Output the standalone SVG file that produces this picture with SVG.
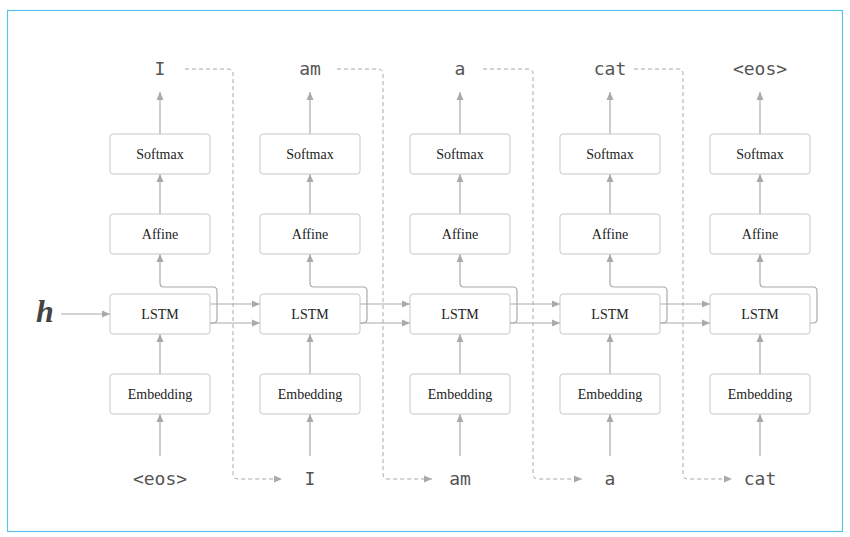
<svg xmlns="http://www.w3.org/2000/svg" width="850" height="537" viewBox="0 0 850 537">
<defs>
<marker id="ah" markerUnits="userSpaceOnUse" markerWidth="9" markerHeight="8" refX="8" refY="4" orient="auto">
<path d="M0,0.5 L8,4 L0,7.5 Z" fill="#aaaaaa"/>
</marker>
<style>
.box{fill:#fff;stroke:#c8c8c8;stroke-width:1}
.lbl{font-family:"Liberation Serif",serif;font-size:14px;fill:#222;text-anchor:middle}
.word{font-family:"DejaVu Sans Mono",monospace;font-size:18px;fill:#555;text-anchor:middle}
.ln{fill:none;stroke:#aaaaaa;stroke-width:1.2;marker-end:url(#ah)}
.ln2{fill:none;stroke:#aaaaaa;stroke-width:1.2}
.dash{fill:none;stroke:#aaaaaa;stroke-width:1;stroke-dasharray:4,3;marker-end:url(#ah)}
</style>
</defs>
<rect x="7.5" y="10.5" width="835" height="521" fill="#fff" stroke="#5bc2ee" stroke-width="1.2"/>
<text x="45" y="322" font-family="Liberation Serif,serif" font-size="32" font-weight="bold" font-style="italic" fill="#444" text-anchor="middle">h</text>
<g id="connectors">
<path class="ln" d="M61,314 H110"/>
<!-- column vertical arrows -->
<path class="ln" d="M160,456 V414"/><path class="ln" d="M160,374 V334"/><path class="ln" d="M160,214 V174"/><path class="ln" d="M160,134 V92"/>
<path class="ln" d="M310,456 V414"/><path class="ln" d="M310,374 V334"/><path class="ln" d="M310,214 V174"/><path class="ln" d="M310,134 V92"/>
<path class="ln" d="M460,456 V414"/><path class="ln" d="M460,374 V334"/><path class="ln" d="M460,214 V174"/><path class="ln" d="M460,134 V92"/>
<path class="ln" d="M610,456 V414"/><path class="ln" d="M610,374 V334"/><path class="ln" d="M610,214 V174"/><path class="ln" d="M610,134 V92"/>
<path class="ln" d="M760,456 V414"/><path class="ln" d="M760,374 V334"/><path class="ln" d="M760,214 V174"/><path class="ln" d="M760,134 V92"/>
<!-- LSTM to Affine branches -->
<path class="ln" d="M210,323 H213 Q217,323 217,319 V291 Q217,287 213,287 H164 Q160,287 160,283 V254"/>
<path class="ln" d="M360,323 H363 Q367,323 367,319 V291 Q367,287 363,287 H314 Q310,287 310,283 V254"/>
<path class="ln" d="M510,323 H513 Q517,323 517,319 V291 Q517,287 513,287 H464 Q460,287 460,283 V254"/>
<path class="ln" d="M660,323 H663 Q667,323 667,319 V291 Q667,287 663,287 H614 Q610,287 610,283 V254"/>
<path class="ln" d="M810,323 H813 Q817,323 817,319 V291 Q817,287 813,287 H764 Q760,287 760,283 V254"/>
<!-- LSTM to LSTM -->
<path class="ln" d="M210,304 H260"/><path class="ln" d="M210,323 H260"/>
<path class="ln" d="M360,304 H410"/><path class="ln" d="M360,323 H410"/>
<path class="ln" d="M510,304 H560"/><path class="ln" d="M510,323 H560"/>
<path class="ln" d="M660,304 H710"/><path class="ln" d="M660,323 H710"/>
<!-- dashed feedback -->
<path class="dash" d="M185,69 H228 Q233,69 233,74 V474 Q233,479 238,479 H282"/>
<path class="dash" d="M337,69 H378 Q383,69 383,74 V474 Q383,479 388,479 H432"/>
<path class="dash" d="M483,69 H528 Q533,69 533,74 V474 Q533,479 538,479 H582"/>
<path class="dash" d="M634,69 H678 Q683,69 683,74 V474 Q683,479 688,479 H732"/>
</g>
<g id="col1">
<rect class="box" x="110" y="134" width="100" height="40" rx="3"/><text class="lbl" x="160" y="159">Softmax</text>
<rect class="box" x="110" y="214" width="100" height="40" rx="3"/><text class="lbl" x="160" y="239">Affine</text>
<rect class="box" x="110" y="294" width="100" height="40" rx="3"/><text class="lbl" x="160" y="319">LSTM</text>
<rect class="box" x="110" y="374" width="100" height="40" rx="3"/><text class="lbl" x="160" y="399">Embedding</text>
<text class="word" x="160" y="75">I</text><text class="word" x="160" y="485">&lt;eos&gt;</text>
</g>
<g id="col2">
<rect class="box" x="260" y="134" width="100" height="40" rx="3"/><text class="lbl" x="310" y="159">Softmax</text>
<rect class="box" x="260" y="214" width="100" height="40" rx="3"/><text class="lbl" x="310" y="239">Affine</text>
<rect class="box" x="260" y="294" width="100" height="40" rx="3"/><text class="lbl" x="310" y="319">LSTM</text>
<rect class="box" x="260" y="374" width="100" height="40" rx="3"/><text class="lbl" x="310" y="399">Embedding</text>
<text class="word" x="310" y="75">am</text><text class="word" x="310" y="485">I</text>
</g>
<g id="col3">
<rect class="box" x="410" y="134" width="100" height="40" rx="3"/><text class="lbl" x="460" y="159">Softmax</text>
<rect class="box" x="410" y="214" width="100" height="40" rx="3"/><text class="lbl" x="460" y="239">Affine</text>
<rect class="box" x="410" y="294" width="100" height="40" rx="3"/><text class="lbl" x="460" y="319">LSTM</text>
<rect class="box" x="410" y="374" width="100" height="40" rx="3"/><text class="lbl" x="460" y="399">Embedding</text>
<text class="word" x="460" y="75">a</text><text class="word" x="460" y="485">am</text>
</g>
<g id="col4">
<rect class="box" x="560" y="134" width="100" height="40" rx="3"/><text class="lbl" x="610" y="159">Softmax</text>
<rect class="box" x="560" y="214" width="100" height="40" rx="3"/><text class="lbl" x="610" y="239">Affine</text>
<rect class="box" x="560" y="294" width="100" height="40" rx="3"/><text class="lbl" x="610" y="319">LSTM</text>
<rect class="box" x="560" y="374" width="100" height="40" rx="3"/><text class="lbl" x="610" y="399">Embedding</text>
<text class="word" x="610" y="75">cat</text><text class="word" x="610" y="485">a</text>
</g>
<g id="col5">
<rect class="box" x="710" y="134" width="100" height="40" rx="3"/><text class="lbl" x="760" y="159">Softmax</text>
<rect class="box" x="710" y="214" width="100" height="40" rx="3"/><text class="lbl" x="760" y="239">Affine</text>
<rect class="box" x="710" y="294" width="100" height="40" rx="3"/><text class="lbl" x="760" y="319">LSTM</text>
<rect class="box" x="710" y="374" width="100" height="40" rx="3"/><text class="lbl" x="760" y="399">Embedding</text>
<text class="word" x="760" y="75">&lt;eos&gt;</text><text class="word" x="760" y="485">cat</text>
</g>
</svg>
